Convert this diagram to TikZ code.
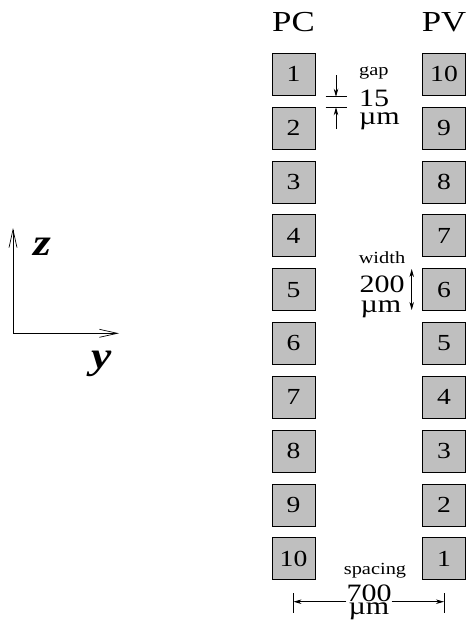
\documentclass[tikz,border=0pt]{standalone}
\usepackage{fontspec}
\setmainfont{Liberation Serif}[FakeStretch=1.2]
\usetikzlibrary{arrows.meta,positioning}

\begin{document}
\begin{tikzpicture}[x=1pt,y=-1pt,
    pad/.style = {draw,fill=black!25,line width=0.8pt,minimum width=43pt,minimum height=42pt,inner sep=0pt,font=\fontsize{23}{25}\selectfont},
    head/.style = {font=\fontsize{29}{31}\selectfont,inner sep=0pt},
    small/.style = {font=\fontsize{17}{18}\selectfont,inner sep=0pt},
    big/.style = {font=\fontsize{25}{26}\selectfont,inner sep=0pt},
    axis/.style = {-{Straight Barb[length=18pt,width=8pt]},line width=0.7pt},
    axlabel/.style = {font=\fontsize{38}{40}\selectfont\bfseries\itshape,inner sep=0pt},
    dim/.style = {line width=0.7pt},
    tip/.style = {-{Stealth[length=8pt,width=4.5pt]},line width=0.7pt},
    tips/.style = {{Stealth[length=8pt,width=4.5pt]}-{Stealth[length=8pt,width=4.5pt]},line width=0.7pt}
    ]
    \useasboundingbox (0,0) rectangle (472,622);
    % pads
    \foreach \i in {1,...,10} {
      \node[pad] (pc\i) at (293.5,{74.2+(\i-1)*53.85}) {\i};
      \node[pad] (pv\i) at (444,{74.2+(10-\i)*53.85}) {\i};
    }
    \node[head] (pc) at (293.5,22.5) {PC};
    \node[head] (pv) at (444,22.5) {PV};
    % gap
    \node[small,anchor=west] (gap) at (359,72.5) {gap};
    \node[big,anchor=west] (g15) at (359,98.5) {15};
    \node[big,anchor=west] (gum) at (359,121.5) {µm};
    \coordinate (ga1) at (325.7,96.7);
    \coordinate (ga2) at (347.3,96.7);
    \coordinate (gb1) at (325.7,107.3);
    \coordinate (gb2) at (347.3,107.3);
    \coordinate (gt1) at (336,75);
    \coordinate (gt2) at (336,129);
    \draw[dim] (ga1) -- (ga2);
    \draw[dim] (gb1) -- (gb2);
    \draw[tip] (gt1) -- (gt1 |- ga1);
    \draw[tip] (gt2) -- (gt2 |- gb1);
    % width
    \node[small] (width) at (382,257.5) {width};
    \node[big] (w200) at (382,284) {200};
    \node[big] (wum) at (381,309) {µm};
    \coordinate (wt1) at (411.7,269);
    \coordinate (wt2) at (411.7,310);
    \draw[tips] (wt1) -- (wt2);
    % spacing
    \node[small] (spacing) at (375,570.5) {spacing};
    \node[big] (s700) at (369,593.5) {700};
    \node[big] (sum) at (369,611.5) {µm};
    \coordinate (st1) at (293.5,593);
    \coordinate (sb1) at (293.5,613);
    \coordinate (st2) at (444,593);
    \coordinate (sb2) at (444,613);
    \coordinate (sl) at (0,601.7);
    \draw[dim] (st1) -- (sb1);
    \draw[dim] (st2) -- (sb2);
    \draw[tip] (s700.west |- sl) -- (st1 |- sl);
    \draw[tip] (s700.east |- sl) -- (st2 |- sl);
    % axes
    \coordinate (o) at (13,333.3);
    \coordinate (zt) at (13,228);
    \coordinate (yt) at (119,333.3);
    \draw[axis] (o) -- (zt);
    \draw[axis] (o) -- (yt);
    \node[axlabel] (z) at (42,247) {z};
    \node[axlabel] (y) at (102,364) {y};
\end{tikzpicture}
\end{document}
